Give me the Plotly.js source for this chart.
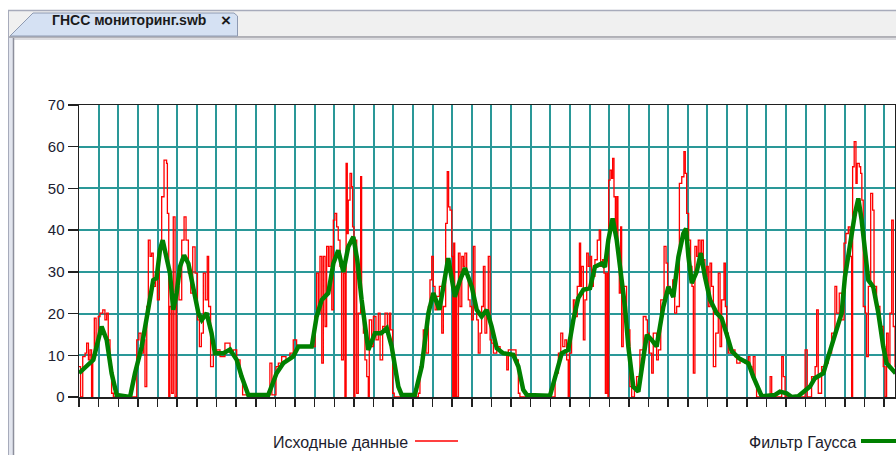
<!DOCTYPE html>
<html>
<head>
<meta charset="utf-8">
<script src="https://cdn.plot.ly/plotly-3.0.1.min.js"></script>
<style>html,body{margin:0;padding:0;background:#fff;}#chart{width:896px;height:455px;}</style>
</head>
<body>
<div id="chart"></div>
<script>
// ---- data (x in grid units, y in chart units) ----
const tabTitle = "ГНСС мониторинг.swb";
const rawName = "Исходные данные";
const filtName = "Фильтр Гаусса";
const yTicks = [0, 10, 20, 30, 40, 50, 60, 70];

const rawX = [0,0.08,0.19,0.31,0.39,0.48,0.56,0.64,0.70,0.78,0.87,0.98,1.07,1.21,1.32,1.41,1.49,1.58,1.66,1.75,
2.94,3.05,3.16,3.28,3.36,3.45,3.53,3.62,3.70,3.78,3.89,3.99,4.09,4.21,4.33,4.46,4.50,4.57,4.63,4.72,4.80,4.89,4.97,
5.09,5.23,5.35,5.45,5.57,5.69,5.79,5.91,6.03,6.13,6.23,6.33,6.43,6.53,6.60,6.70,6.84,7.01,7.18,7.43,7.69,7.86,8.03,
8.20,8.33,9.72,9.82,10.03,10.15,10.32,10.54,10.74,10.91,11.08,12.02,12.10,12.19,12.27,12.36,12.44,12.53,12.61,12.70,
12.78,12.87,12.95,13.03,13.12,13.20,13.29,13.37,13.46,13.54,13.60,13.66,13.71,13.80,13.88,13.93,14.00,14.05,14.14,
14.22,14.34,14.39,14.48,14.56,14.65,14.73,14.78,14.90,14.99,15.12,15.24,15.33,15.46,15.58,15.70,15.80,15.87,15.97,
16.05,17.28,17.36,17.53,17.67,17.79,17.87,17.96,18.04,18.13,18.21,18.35,18.47,18.55,18.67,18.75,18.82,18.89,18.98,
19.03,19.08,19.13,19.18,19.23,19.32,19.40,19.49,19.57,19.65,19.74,19.82,19.91,19.99,20.08,20.16,20.25,20.33,20.42,
20.50,20.59,20.67,20.76,20.84,20.93,21.01,21.10,21.27,21.44,21.78,21.86,22.25,22.37,22.45,24.24,24.41,24.53,24.63,
24.74,24.83,24.91,24.97,25.08,25.17,25.25,25.37,25.48,25.54,25.59,25.68,25.76,25.85,25.93,26.02,26.10,26.19,26.27,
26.39,26.49,26.56,26.66,26.73,26.80,26.87,26.93,26.97,27.04,27.12,27.17,27.24,27.31,27.38,27.44,27.51,27.58,27.63,
27.71,27.88,28.05,28.14,28.28,28.39,28.56,28.73,28.87,28.94,29.04,29.16,29.24,29.41,29.50,29.62,29.79,29.89,29.97,
30.09,30.23,30.33,30.43,30.57,30.69,30.80,30.87,30.94,31.04,31.14,31.21,31.28,31.36,31.45,31.53,31.62,31.70,31.79,
31.87,31.96,32.04,32.13,32.21,32.30,32.42,32.55,32.64,32.72,32.84,32.91,32.98,33.06,33.23,33.40,33.49,33.66,33.91,
34.08,34.16,34.25,34.33,34.42,34.50,35.19,35.27,35.78,35.86,35.95,36.97,37.08,37.30,37.48,37.56,37.64,37.81,37.98,
38.15,38.32,38.49,38.58,38.71,38.83,38.95,39.05,39.17,39.26,39.34,39.39,39.47,39.56,39.62,39.73,39.80,39.86,39.93,
40.04,40.10,40.19,40.31,40.41,40.48,40.61,40.78,40.95,41.04,41.12,41.20,41.29,41.38,41.46,41.55,41.70];

const rawY = [7.3,0,9.7,10.5,12.9,8.9,11.3,0,9.7,18.9,12.1,19.3,20.1,20.9,18.5,20.1,13.7,7.3,0.9,0,
13.7,15.3,10.5,13.7,2.5,21.7,37.6,33.7,34.5,26.5,29.7,23.3,35.3,48.0,56.8,56.0,44.0,0,21.7,0.9,43.2,0,26.5,
23.3,37.6,43.2,37.6,29.7,24.9,36.0,29.7,18.5,12.1,15.3,29.7,23.3,33.7,21.7,7.3,10.5,11.3,9.7,12.9,10.5,11.3,8.9,
4.9,0.5,8.1,0.5,7.3,8.1,9.7,8.9,10.5,13.7,12.1,19.3,29.7,20.1,33.7,8.1,33.7,16.9,36.1,31.3,
36.1,20.9,42.4,44.0,40.8,37.6,31.3,8.9,29.7,0,56.0,39.2,47.2,53.6,50.4,40.8,0,37.6,0.9,
20.1,52.8,21.7,15.3,8.9,4.9,0,18.5,12.1,19.3,13.7,20.1,8.9,16.9,20.1,15.3,20.1,16.1,0.9,
0,0.9,7.3,16.1,10.5,21.7,28.1,33.7,26.5,20.9,24.1,26.5,15.3,21.7,41.6,54.0,45.6,44.8,33.7,
0,36.9,0,26.5,0,34.5,21.7,33.7,31.3,34.5,29.7,23.3,21.7,18.5,36.1,21.7,18.5,10.5,15.3,
21.7,31.3,15.3,20.1,33.7,13.7,12.9,10.5,12.1,10.5,6.5,11.3,8.9,0.9,0,5.7,10.5,15.3,12.1,
13.7,8.9,0,10.5,16.9,23.3,19.3,26.5,36.9,26.5,31.3,13.7,23.3,34.5,31.3,33.7,26.5,28.9,32.9,
37.6,40.0,31.3,32.9,29.7,0.9,29.7,0,52.0,54.4,52.4,57.2,48.0,39.2,48.0,33.7,24.9,40.8,12.1,
26.5,16.1,2.5,0,2.5,4.9,11.3,19.3,18.5,15.3,10.5,5.7,15.3,8.9,11.3,23.3,36.1,32.1,26.5,
24.9,28.1,20.1,21.7,51.2,52.8,58.8,53.6,44.0,37.6,31.3,26.5,5.7,36.1,33.7,37.6,34.5,37.6,32.9,
28.9,31.3,21.7,32.1,26.5,7.3,15.3,29.7,12.1,23.3,32.1,21.7,15.3,10.5,11.3,9.7,8.1,8.9,8.1,
9.7,7.3,4.9,9.7,3.3,0,4.9,0,9.7,4.9,0,11.3,0,4.9,7.3,20.9,0.9,7.3,8.1,
10.5,15.3,26.5,20.1,24.9,18.5,36.9,39.2,40.8,33.7,0,55.2,61.2,51.2,56.0,55.2,53.6,47.2,21.7,
20.1,9.7,26.5,48.8,44.8,26.5,21.7,16.9,7.3,0,15.3,7.3,20.1,42.4,16.9,7.3,7.3];

const gaussX = [0,0.73,1.15,1.41,1.66,1.92,2.6,2.85,3.19,3.53,3.78,3.95,4.12,4.26,4.46,4.63,4.8,4.97,5.14,5.35,5.57,
5.82,6.08,6.25,6.5,6.75,6.92,7.35,7.69,8.03,8.28,8.62,9.64,10.06,10.4,10.91,11.17,11.85,12.1,12.36,12.69,12.95,
13.2,13.46,13.71,13.97,14.17,14.39,14.73,15.07,15.39,15.67,15.92,16.26,16.43,17.1,17.45,17.79,18.04,18.35,18.64,
18.8,19.14,19.4,19.65,20.0,20.25,20.5,20.76,21.01,21.27,21.6,22.11,22.37,22.62,22.8,23.98,24.32,24.58,24.91,25.17,
25.42,25.68,26.02,26.27,26.61,26.78,26.95,27.17,27.38,27.55,27.8,27.97,28.22,28.48,28.65,28.91,29.16,29.41,29.75,
30.01,30.26,30.52,30.77,30.91,31.03,31.2,31.45,31.66,31.87,32.13,32.47,32.72,32.98,33.23,33.6,34.08,34.33,34.59,
34.76,35.44,35.69,36.03,36.29,36.62,36.96,37.22,37.47,37.9,38.15,38.49,38.83,39.0,39.25,39.51,39.68,39.85,40.02,
40.19,40.44,40.7,40.95,41.12,41.58];
const gaussY = [5.7,8.9,16.9,13.7,5.7,0.5,0,5.7,12.0,21.6,28.0,28.5,35.2,37.6,32.8,29.7,20.9,24.9,31.2,34.0,32.0,
26.4,20.1,18.5,20.1,15.3,10.5,10.5,11.4,8.9,4.9,0.5,0.5,5.7,8.1,9.7,12.1,12.1,19.3,23.3,24.9,32.0,
35.2,30.0,36.0,38.4,32.8,23.3,11.3,15.3,15.3,16.5,12.1,2.5,0.5,0.5,7.3,20.1,24.9,20.9,28.8,
33.3,24.0,28.0,30.9,26.4,20.9,19.3,20.9,16.9,11.7,10.5,10.1,7.3,1.7,0.5,0.3,5.7,10.5,11.3,18.5,
23.7,25.7,26.1,31.2,32.0,31.2,37.6,42.8,37.6,31.2,21.6,12.1,2.5,1.3,7.3,14.9,13.7,12.1,21.6,
26.4,24.0,33.6,39.2,40.4,33.6,27.3,30.0,34.5,28.8,23.3,20.1,18.9,15.0,11.0,9.3,8.1,4.9,1.7,
0.2,0.5,1.3,0.9,0,0.2,1.7,2.5,4.5,5.7,9.7,14.5,20.1,28.8,36.8,44.0,47.6,42.4,35.2,
28.0,26.4,20.1,12.1,8.1,5.7];

// ---- geometry helpers (pixel -> paper) for window frame decorations ----
const L = 79, R = 895, T = 105, B = 397;
const W = 896, H = 455;
const px = v => (v - L) / (R - L);
const py = v => (B - v) / (B - T);

const shapes = [
  {type:'rect', xref:'paper', yref:'paper', x0:px(8), x1:px(W+2), y0:py(10.5), y1:py(37), fillcolor:'#f0f0f0', line:{width:0}, layer:'below'},
  {type:'line', xref:'paper', yref:'paper', x0:px(8), x1:px(W+2), y0:py(10.5), y1:py(10.5), line:{color:'#a7abbb', width:1.5}},
  {type:'line', xref:'paper', yref:'paper', x0:px(8), x1:px(W+2), y0:py(37), y1:py(37), line:{color:'#9b9ba3', width:1.5}},
  {type:'line', xref:'paper', yref:'paper', x0:px(14), x1:px(W+2), y0:py(39), y1:py(39), line:{color:'#d0d0d6', width:1.5}},
  {type:'rect', xref:'paper', yref:'paper', x0:px(8), x1:px(14), y0:py(H+2), y1:py(37), fillcolor:'#e2e5ee', line:{width:0}, layer:'below'},
  {type:'line', xref:'paper', yref:'paper', x0:px(8.5), x1:px(8.5), y0:py(H+2), y1:py(10.5), line:{color:'#a7abbb', width:1}},
  {type:'line', xref:'paper', yref:'paper', x0:px(13.5), x1:px(13.5), y0:py(H+2), y1:py(38), line:{color:'#8d8f9c', width:1.5}},
  {type:'path', xref:'paper', yref:'paper',
   path:`M ${px(10)} ${py(36)} L ${px(33)} ${py(13)} L ${px(234)} ${py(13)} L ${px(237.5)} ${py(16)} L ${px(237.5)} ${py(36)} Z`,
   fillcolor:'#d5e1f3', line:{color:'#8e9ab2', width:1}},
  {type:'line', xref:'paper', yref:'paper', x0:px(415), x1:px(458), y0:py(441), y1:py(441), line:{color:'#ff0000', width:1.5}},
  {type:'line', xref:'paper', yref:'paper', x0:px(861), x1:px(W+4), y0:py(441), y1:py(441), line:{color:'#008000', width:4}}
];

const annotations = [
  {xref:'paper', yref:'paper', x:px(128.5), y:py(19.5), text:'<b>'+tabTitle+'</b>', showarrow:false,
   xanchor:'center', yanchor:'middle', font:{family:'Liberation Sans, Arial, sans-serif', size:14, color:'#1a1a1a'}},
  {xref:'paper', yref:'paper', x:px(226), y:py(20.5), text:'<b>×</b>', showarrow:false,
   xanchor:'center', yanchor:'middle', font:{family:'Liberation Sans, Arial, sans-serif', size:17, color:'#1a1a1a'}},
  {xref:'paper', yref:'paper', x:px(410), y:py(442), text:rawName, showarrow:false,
   xanchor:'right', yanchor:'middle', font:{family:'Liberation Sans, Arial, sans-serif', size:16, color:'#1c1c2c'}},
  {xref:'paper', yref:'paper', x:px(859), y:py(442), text:filtName, showarrow:false,
   xanchor:'right', yanchor:'middle', font:{family:'Liberation Sans, Arial, sans-serif', size:16, color:'#1c1c2c'}}
];

const traces = [
  {x: rawX, y: rawY, name: rawName, type:'scatter', mode:'lines',
   line:{color:'#ff0000', width:1.3, shape:'hv'}, hoverinfo:'skip'},
  {x: gaussX, y: gaussY, name: filtName, type:'scatter', mode:'lines',
   line:{color:'#008000', width:4.5}, hoverinfo:'skip'}
];

const layout = {
  width: W, height: H,
  margin: {l: L, r: W - R, t: T, b: H - B, pad: 0},
  paper_bgcolor: '#ffffff', plot_bgcolor: '#ffffff',
  showlegend: false,
  xaxis: {
    range: [0, (R - L) / 19.64], tick0: 0, dtick: 1, showticklabels: false,
    showgrid: true, gridcolor: '#2a9898', gridwidth: 2,
    zeroline: false, showline: true, linecolor: '#202020', linewidth: 1.5, mirror: true,
    ticks: 'outside', ticklen: 8, tickcolor: '#202020', tickwidth: 1.5
  },
  yaxis: {
    range: [0, 70], tickvals: yTicks, ticktext: yTicks.map(String),
    showgrid: true, gridcolor: '#2a9898', gridwidth: 2,
    zeroline: false, showline: true, linecolor: '#202020', linewidth: 1.5, mirror: true,
    ticks: 'outside', ticklen: 10, tickcolor: '#202020', tickwidth: 1.5,
    tickfont: {family: 'Liberation Sans, Arial, sans-serif', size: 15, color: '#202030'}
  },
  shapes: shapes,
  annotations: annotations
};

Plotly.newPlot('chart', traces, layout, {displayModeBar: false, staticPlot: true});
</script>
</body>
</html>
